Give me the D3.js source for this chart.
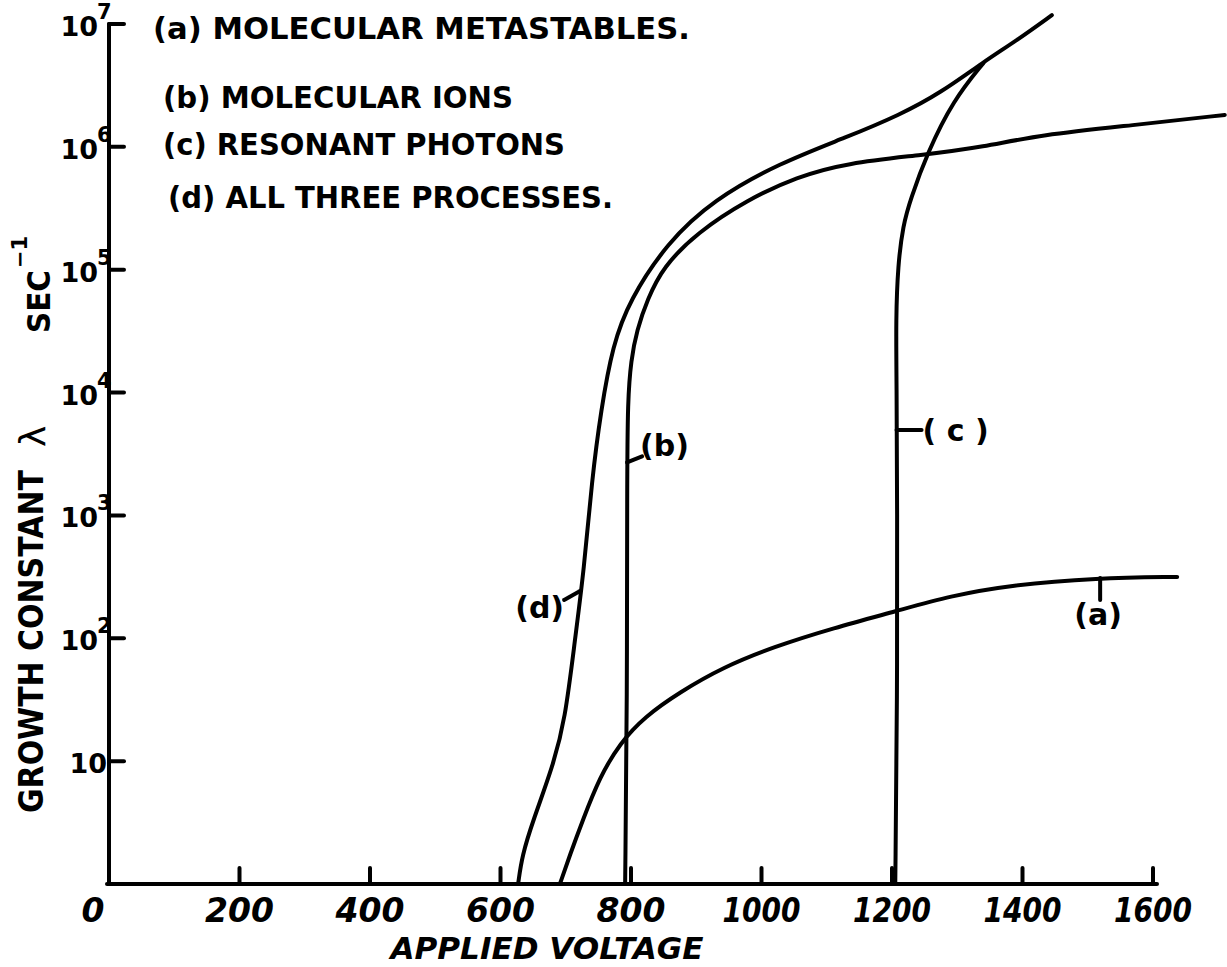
<!DOCTYPE html>
<html>
<head>
<meta charset="utf-8">
<script src="https://cdn.jsdelivr.net/npm/d3@7"></script>
<style>
  html, body { margin: 0; padding: 0; background: #fff; }
  svg { display: block; }
  text { font-family: "DejaVu Sans", sans-serif; font-weight: bold; fill: #000; }
</style>
</head>
<body>
<script>
// growth constant (sec^-1) against applied voltage
const voltsA = [691, 706, 726, 752, 783, 821, 875, 941, 1018, 1110, 1208, 1289, 1381, 1514, 1637];
const lambdaA = [1, 1.7, 3.3, 7.4, 14, 23, 36.5, 58, 85, 121, 167, 221, 271, 310, 316];

const voltsB = [791, 794, 794, 795, 800, 809, 825, 849, 901, 978, 1054, 1131, 1248, 1340, 1427, 1569, 1710];
const lambdaB = [1, 31, 1940, 8700, 18400, 32300, 57000, 105000, 200000, 370000, 570000, 740000, 860000, 1.0e6, 1.25e6, 1.5e6, 1.82e6];

const voltsC = [1205, 1208, 1208, 1207, 1206, 1209, 1217, 1228, 1254, 1294, 1340];
const lambdaC = [1, 31, 1300, 12700, 39000, 109000, 231000, 370000, 890000, 2.4e6, 4.8e6];

const voltsD = [627, 633, 650, 680, 699, 714, 728, 740, 754, 772, 798, 855, 926, 1028, 1131, 1212, 1274, 1340, 1392, 1445];
const lambdaD = [1, 1.7, 3.3, 9, 21.6, 97, 360, 1940, 7200, 24400, 56700, 165000, 370000, 740000, 1.2e6, 1.82e6, 2.74e6, 4.9e6, 7.4e6, 1.18e7];

const voltTicks = [0, 200, 400, 600, 800, 1000, 1200, 1400, 1600];
const lambdaTicks = [10, 1e2, 1e3, 1e4, 1e5, 1e6, 1e7];

const legendLines = [
  "(a) MOLECULAR METASTABLES.",
  "(b) MOLECULAR IONS",
  "(c) RESONANT PHOTONS",
  "(d) ALL THREE PROCESSES."
];

// where each curve carries its little tag
const curveTags = ["(a)", "(b)", "( c )", "(d)"];
const tagVolts = [1519, 794, 1207, 722];
const tagLambda = [309, 2700, 4950, 243];

var width = 1227,
  height = 967;

var x = d3.scaleLinear().domain([0, 1600]).range([109, 1153]);
var y = d3.scaleLog().domain([1, 1e7]).range([884, 24]);

var svg = d3.select("body").append("svg")
  .attr("width", width)
  .attr("height", height);

svg.append("rect").attr("width", width).attr("height", height).attr("fill", "#fff");

var ink = svg.append("g")
  .attr("fill", "none")
  .attr("stroke", "#000")
  .attr("stroke-width", 4)
  .attr("stroke-linecap", "round")
  .attr("stroke-linejoin", "round");

// axes, drawn by hand style: plain lines and inward ticks
var x0 = x(0), yBase = y(1);
ink.append("line").attr("x1", x0).attr("x2", x0).attr("y1", y(1e7)).attr("y2", yBase);
ink.append("line").attr("x1", x0 - 2).attr("x2", x(1600) + 4).attr("y1", yBase).attr("y2", yBase);

ink.selectAll(".ytick")
  .data(lambdaTicks)
  .enter().append("line")
  .attr("x1", x0).attr("x2", x0 + 15)
  .attr("y1", d => y(d)).attr("y2", d => y(d));

ink.selectAll(".xtick")
  .data(voltTicks.slice(1))
  .enter().append("line")
  .attr("x1", d => x(d)).attr("x2", d => x(d))
  .attr("y1", yBase).attr("y2", yBase - 16);

// tick labels
var yLab = svg.append("g");
lambdaTicks.forEach(function (d) {
  var e = Math.round(Math.log10(d));
  var ty = y(d) + 12;
  if (e === 1) {
    yLab.append("text").attr("x", x0 - 2).attr("y", ty).attr("text-anchor", "end")
      .style("font-size", "27px").text("10");
  } else {
    yLab.append("text").attr("x", x0 - 11).attr("y", ty).attr("text-anchor", "end")
      .style("font-size", "27px").text("10");
    yLab.append("text").attr("x", x0 - 12).attr("y", ty - 17)
      .style("font-size", "21px").text(e);
  }
});

svg.append("g").selectAll("text")
  .data(voltTicks)
  .enter().append("text")
  .attr("x", d => x(d) + (d === 0 ? -16 : 0))
  .attr("y", 922)
  .attr("text-anchor", "middle")
  .style("font-size", "33px")
  .style("font-style", "italic")
  .attr("textLength", d => String(d).length === 4 ? 78 : null)
  .attr("lengthAdjust", "spacingAndGlyphs")
  .text(d => d);

// axis titles
svg.append("text")
  .attr("x", 547).attr("y", 959)
  .attr("text-anchor", "middle")
  .attr("textLength", 313)
  .attr("lengthAdjust", "spacingAndGlyphs")
  .style("font-size", "30px").style("font-style", "italic")
  .text("APPLIED VOLTAGE");

svg.append("text")
  .attr("transform", "translate(43,813) rotate(-90)")
  .attr("textLength", 343)
  .attr("lengthAdjust", "spacingAndGlyphs")
  .style("font-size", "33px")
  .text("GROWTH CONSTANT");

svg.append("text")
  .attr("transform", "translate(45,447) rotate(-90)")
  .style("font-size", "36px").style("font-weight", "normal")
  .text("λ");

svg.append("text")
  .attr("transform", "translate(50,333) rotate(-90)")
  .attr("textLength", 63)
  .attr("lengthAdjust", "spacingAndGlyphs")
  .style("font-size", "32px")
  .text("SEC");

svg.append("text")
  .attr("transform", "translate(27,268) rotate(-90)")
  .style("font-size", "21px")
  .text("−1");

// legend block
var legendX = [153, 163, 163, 168],
  legendY = [39, 108, 155, 208],
  legendW = [537, 350, 402, 445];
svg.append("g").selectAll("text")
  .data(legendLines)
  .enter().append("text")
  .attr("x", (d, i) => legendX[i])
  .attr("y", (d, i) => legendY[i])
  .attr("textLength", (d, i) => legendW[i])
  .attr("lengthAdjust", "spacingAndGlyphs")
  .style("font-size", "30px")
  .text(d => d);

// curves
var line = d3.line()
  .x(d => x(d[0]))
  .y(d => y(d[1]))
  .curve(d3.curveBasis);

var series = [
  d3.zip(voltsA, lambdaA),
  d3.zip(voltsB, lambdaB),
  d3.zip(voltsC, lambdaC),
  d3.zip(voltsD, lambdaD)
];

ink.selectAll(".curve")
  .data(series)
  .enter().append("path")
  .attr("d", line);

// tags with leader strokes
var lead = [[0, 22], [15, -6], [25, 0], [-16, 9]];
var tagPos = [[-2, 47, "middle"], [13, -6, "start"], [26, 11, "start"], [-16, 27, "end"]];
curveTags.forEach(function (t, i) {
  var px = x(tagVolts[i]), py = y(tagLambda[i]);
  ink.append("line")
    .attr("x1", px).attr("y1", py)
    .attr("x2", px + lead[i][0]).attr("y2", py + lead[i][1]);
  svg.append("text")
    .attr("x", px + tagPos[i][0])
    .attr("y", py + tagPos[i][1])
    .attr("text-anchor", tagPos[i][2])
    .style("font-size", "30px")
    .text(t);
});
</script>
</body>
</html>
